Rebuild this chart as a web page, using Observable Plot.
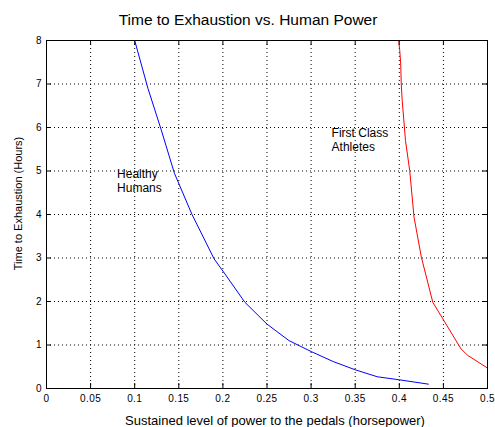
<!DOCTYPE html>
<html>
<head>
<meta charset="utf-8">
<script src="https://cdn.jsdelivr.net/npm/d3@7"></script>
<script src="https://cdn.jsdelivr.net/npm/@observablehq/plot@0.6"></script>
<style>
  html, body { margin: 0; padding: 0; background: #fff; }
  .tick-labels text { letter-spacing: 0.4px; }
</style>
</head>
<body>
<div id="chart"></div>
<script>
// Healthy humans (blue)
const healthyPower = [0.1, 0.115, 0.13, 0.145, 0.165, 0.19, 0.2, 0.225, 0.25, 0.275, 0.3, 0.325, 0.35, 0.375, 0.4, 0.433];
const healthyHours = [8, 6.9, 5.95, 4.95, 4.0, 2.98, 2.7, 1.98, 1.48, 1.1, 0.85, 0.62, 0.43, 0.27, 0.2, 0.1];
// First class athletes (red)
const athletePower = [0.3993, 0.4005, 0.4016, 0.4022, 0.4033, 0.407, 0.4118, 0.4167, 0.425, 0.438, 0.4494, 0.47, 0.4777, 0.5];
const athleteHours = [8, 7.77, 7.46, 7.0, 6.62, 5.7, 5.01, 3.94, 3.02, 1.98, 1.6, 0.91, 0.76, 0.47];

const xTicks = [0, 0.05, 0.1, 0.15, 0.2, 0.25, 0.3, 0.35, 0.4, 0.45, 0.5];
const yTicks = [0, 1, 2, 3, 4, 5, 6, 7, 8];
const xInner = xTicks.slice(1, -1);
const yInner = yTicks.slice(1, -1);

const title = "Time to Exhaustion vs. Human Power";
const xLabel = "Sustained level of power to the pedals (horsepower)";
const yLabel = "Time to Exhaustion (Hours)";
const notes = [
  {x: 0.08, y: 4.78, text: "Healthy\nHumans"},
  {x: 0.3232, y: 5.72, text: "First Class\nAthletes"}
];

const healthy = healthyPower.map((p, i) => ({p, h: healthyHours[i]}));
const athletes = athletePower.map((p, i) => ({p, h: athleteHours[i]}));

const W = 495, H = 427;
const mt = 40, mb = 39, ml = 46, mr = 8;
const plotH = H - mt - mb, plotW = W - ml - mr;
const font = "'Liberation Sans', Arial, Helvetica, sans-serif";

const chart = Plot.plot({
  width: W,
  height: H,
  marginTop: mt, marginBottom: mb, marginLeft: ml, marginRight: mr,
  style: {fontFamily: font, background: "#fff", color: "#000"},
  x: {domain: [0, 0.5]},
  y: {domain: [0, 8]},
  marks: [
    Plot.gridX(xInner, {stroke: "#000", strokeOpacity: 1, strokeDasharray: "1,3"}),
    Plot.gridY(yInner, {stroke: "#000", strokeOpacity: 1, strokeDasharray: "1,3"}),
    Plot.tickX(xTicks, {x: d => d, stroke: "#000", insetTop: plotH - 5}),
    Plot.tickX(xTicks, {x: d => d, stroke: "#000", insetBottom: plotH - 5}),
    Plot.tickY(yTicks, {y: d => d, stroke: "#000", insetRight: plotW - 5}),
    Plot.tickY(yTicks, {y: d => d, stroke: "#000", insetLeft: plotW - 5}),
    Plot.axisX(xTicks, {tickSize: 0, tickPadding: 6, fontSize: 10, tickFormat: d => String(d), label: null, className: "tick-labels"}),
    Plot.axisY(yTicks, {tickSize: 0, tickPadding: 5, fontSize: 10, tickFormat: d => String(d), label: null}),
    Plot.line(healthy, {x: "p", y: "h", stroke: "#0000ff", strokeWidth: 1}),
    Plot.line(athletes, {x: "p", y: "h", stroke: "#ff0000", strokeWidth: 1}),
    Plot.text(notes, {x: "x", y: "y", text: "text", textAnchor: "start", lineAnchor: "middle", fontSize: 12, lineHeight: 1.17, fill: "#000"}),
    Plot.frame({stroke: "#000"}),
    Plot.text([title], {frameAnchor: "top", dx: -19, dy: -20, fontSize: 15.5, fill: "#000", textAnchor: "middle", lineAnchor: "middle"}),
    Plot.text([xLabel], {frameAnchor: "bottom", dx: 8, dy: 32, fontSize: 13, fill: "#000", textAnchor: "middle", lineAnchor: "middle"}),
    Plot.text([yLabel], {frameAnchor: "left", dx: -28, dy: -11, rotate: -90, fontSize: 11, fill: "#000", textAnchor: "middle", lineAnchor: "middle"})
  ]
});
document.getElementById("chart").appendChild(chart);
</script>
</body>
</html>
